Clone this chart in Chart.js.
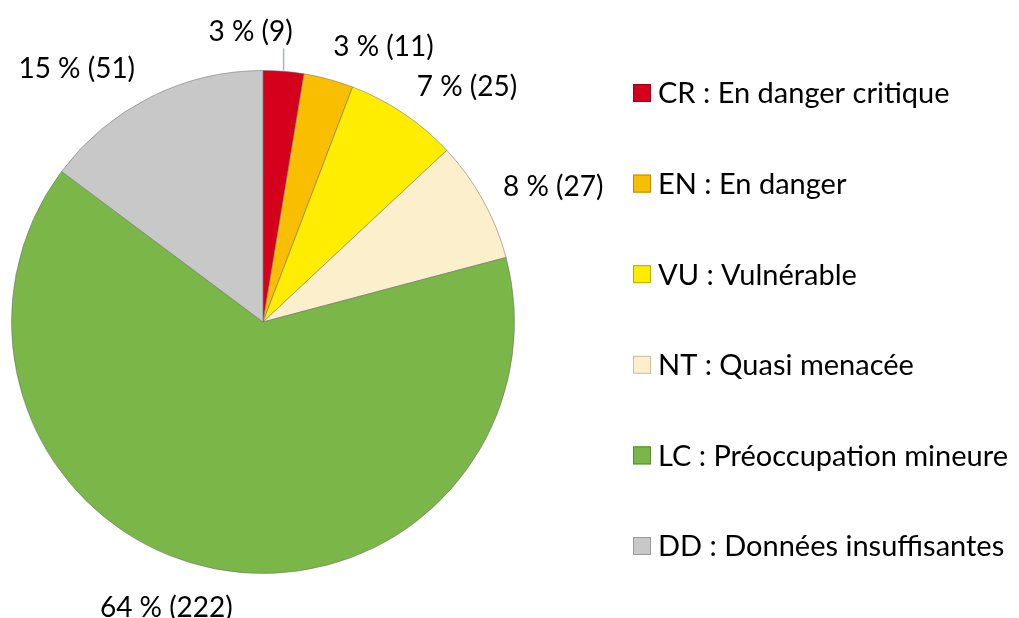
<!DOCTYPE html>
<html>
<head>
<meta charset="utf-8">
<script src="https://cdn.jsdelivr.net/npm/chart.js@4.4.1/dist/chart.umd.min.js"></script>
<style>
  html, body { margin: 0; padding: 0; background: #fff; }
  #wrap { width: 1019px; height: 618px; position: relative; }
</style>
</head>
<body>
<div id="wrap"><canvas id="pie"></canvas></div>
<script>
// IUCN categories and species counts
const codes = ['CR', 'EN', 'VU', 'NT', 'LC', 'DD'];
const names = ['En danger critique', 'En danger', 'Vulnérable', 'Quasi menacée', 'Préoccupation mineure', 'Données insuffisantes'];
const counts = [9, 11, 25, 27, 222, 51];
const percents = [3, 3, 7, 8, 64, 15];
const colors = ['#D5001C', '#F9BE00', '#FFED00', '#FBF0CB', '#7AB648', '#C8C8C8'];
const boxBorders = ['#9c0014', '#b88c00', '#b8a800', '#c8bfa0', '#5a8a34', '#9a9a9a'];

const LEGEND_FONT = '29px Lato, "Open Sans", sans-serif';
const LABEL_FONT = '28px Lato, "Open Sans", sans-serif';

// little angle nudges (degrees) so labels don't collide, like Excel's best fit
const labelShift = [0, 8.5, 7, 4, 7.7, -9.8];

const labelPlugin = {
    id: 'sliceLabels',
    afterDatasetsDraw(chart) {
        const ctx = chart.ctx;
        const arcs = chart.getDatasetMeta(0).data;
        ctx.save();
        ctx.font = LABEL_FONT;
        ctx.fillStyle = '#000';
        ctx.textAlign = 'center';
        ctx.textBaseline = 'middle';
        arcs.forEach((arc, i) => {
            const p = arc.getProps(['x', 'y', 'startAngle', 'endAngle', 'outerRadius'], true);
            const txt = percents[i] + ' % (' + counts[i] + ')';
            const mid = (p.startAngle + p.endAngle) / 2;
            if (i === 0) {
                // small slice: leader line going up
                const ex = p.x + Math.cos(mid) * p.outerRadius;
                const ey = p.y + Math.sin(mid) * p.outerRadius;
                ctx.strokeStyle = '#a6b4c8';
                ctx.lineWidth = 1.5;
                ctx.beginPath();
                ctx.moveTo(ex, ey - 1);
                ctx.lineTo(ex, ey - 23);
                ctx.stroke();
                ctx.fillText(txt, ex - 33, ey - 39);
                return;
            }
            const a = mid + labelShift[i] * Math.PI / 180;
            const w = ctx.measureText(txt).width;
            const h = 24;
            const d = p.outerRadius + 18 + Math.abs(Math.cos(a)) * w / 2 + Math.abs(Math.sin(a)) * h / 2;
            ctx.fillText(txt, p.x + Math.cos(a) * d, p.y + Math.sin(a) * d);
        });
        ctx.restore();
    }
};

const legendPlugin = {
    id: 'sideLegend',
    afterDraw(chart) {
        const ctx = chart.ctx;
        ctx.save();
        ctx.font = LEGEND_FONT;
        ctx.textBaseline = 'middle';
        ctx.textAlign = 'left';
        codes.forEach((c, i) => {
            const y = 93 + i * 90.6;
            ctx.fillStyle = colors[i];
            ctx.fillRect(633, y - 9, 18, 18);
            ctx.strokeStyle = boxBorders[i];
            ctx.lineWidth = 1;
            ctx.strokeRect(633.5, y - 8.5, 17, 17);
            ctx.fillStyle = '#000';
            ctx.fillText(c + ' : ' + names[i], 658, y + 1);
        });
        ctx.restore();
    }
};

new Chart(document.getElementById('pie'), {
    type: 'pie',
    data: {
        labels: codes.map((c, i) => c + ' : ' + names[i]),
        datasets: [{
            data: counts,
            backgroundColor: colors,
            borderColor: 'rgba(110,110,110,0.55)',
            borderWidth: 1,
            hoverOffset: 0
        }]
    },
    options: {
        responsive: true,
        maintainAspectRatio: false,
        animation: false,
        layout: { padding: { left: 11, top: 70, right: 504, bottom: 44 } },
        plugins: {
            legend: { display: false },
            tooltip: { enabled: false }
        }
    },
    plugins: [labelPlugin, legendPlugin]
});
</script>
</body>
</html>
